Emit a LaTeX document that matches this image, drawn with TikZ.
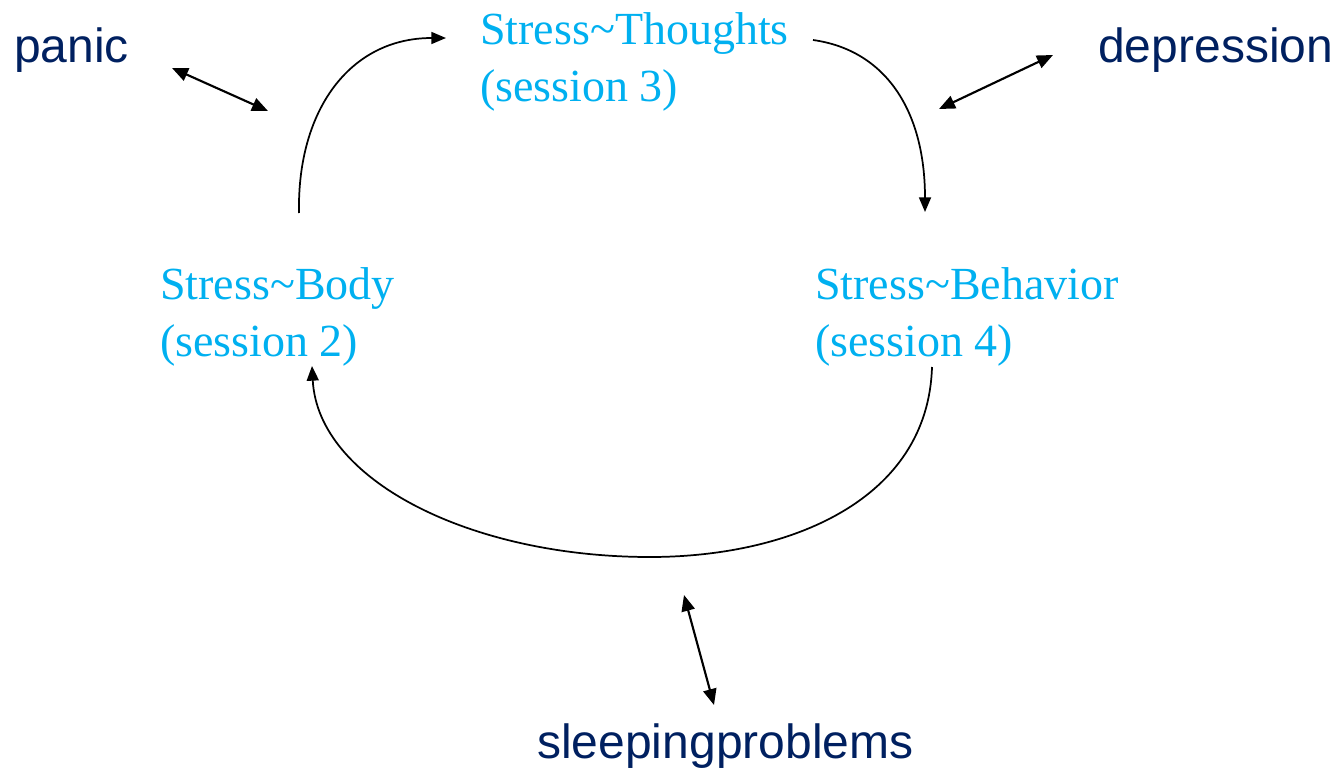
\documentclass[tikz,border=0pt]{standalone}
\usepackage{fontspec}
\setmainfont{Liberation Serif}
\newfontfamily\labelsans{Liberation Sans}
\usetikzlibrary{arrows.meta}
\definecolor{stresscyan}{HTML}{00B0F0}
\definecolor{darknavy}{HTML}{002060}
\begin{document}
\begin{tikzpicture}[x=0.75pt,y=-0.75pt,
  stage/.style={text=stresscyan, font=\fontsize{34.5}{42.75}\selectfont, align=left, anchor=north west, inner sep=0pt},
  effect/.style={text=darknavy, font=\labelsans\fontsize{36}{43}\selectfont, anchor=base west, inner sep=0pt},
  cycle/.style={line width=1.3pt, -{Triangle[length=11pt,width=9pt]}},
  mutual/.style={line width=1.6pt, {Triangle[length=12pt,width=10pt]}-{Triangle[length=12pt,width=10pt]}}]
\useasboundingbox (0,0) rectangle (1336,771);
% labels
\node[stage] (thoughts) at (480,12) {Stress\char`~Thoughts\\(session 3)};
\node[stage] (body) at (160,267) {Stress\char`~Body\\(session 2)};
\node[stage] (behavior) at (815,267) {Stress\char`~Behavior\\(session 4)};
\node[effect] (panic) at (14,62) {panic};
\node[effect] (depression) at (1098,62) {depression};
\node[effect] (sleep) at (537,758) {sleepingproblems};
% cycle connectors
\coordinate (bodyTop) at (299,213);
\coordinate (thoughtsIn) at (446,38);
\coordinate (thoughtsOut) at (813,40);
\coordinate (behaviorIn) at (925,212);
\coordinate (behaviorOut) at (932,367);
\coordinate (bottom) at (650,557);
\coordinate (bodyIn) at (312,366);
\draw[cycle] (bodyTop) .. controls (297,110) and (350,38) .. (thoughtsIn);
\draw[cycle] (thoughtsOut) .. controls (885,50) and (925,110) .. (behaviorIn);
\draw[line width=1.3pt] (behaviorOut) .. controls (928,500) and (790,557) .. (bottom);
\draw[cycle] (bottom) .. controls (470,557) and (318,480) .. (bodyIn);
% mutual influences
\coordinate (panicA) at (172,68);
\coordinate (panicB) at (268,111);
\coordinate (depA) at (1053,55);
\coordinate (depB) at (939,109);
\coordinate (sleepA) at (684,595);
\coordinate (sleepB) at (714,705);
\draw[mutual] (panicA) -- (panicB);
\draw[mutual] (depA) -- (depB);
\draw[mutual] (sleepA) -- (sleepB);
\end{tikzpicture}
\end{document}
